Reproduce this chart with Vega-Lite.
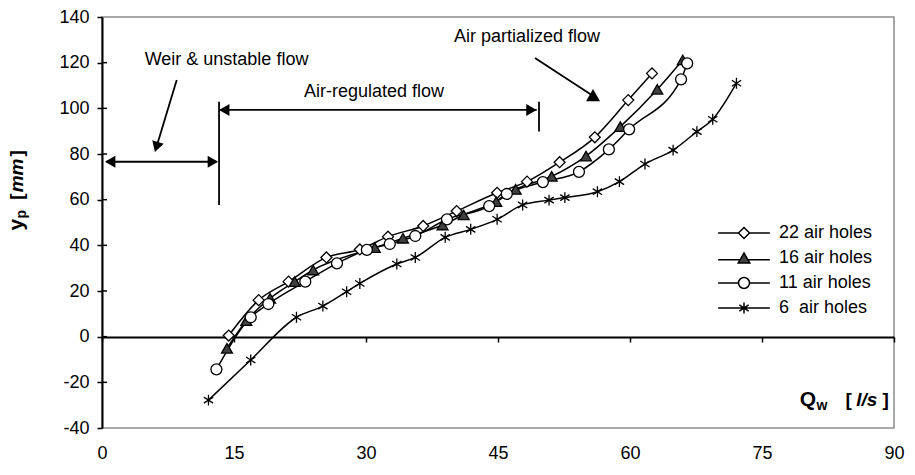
{
  "$schema": "https://vega.github.io/schema/vega-lite/v6.json",
  "width": 792,
  "height": 411,
  "autosize": {"type": "none"},
  "padding": {"left": 102, "top": 17, "right": 21, "bottom": 47},
  "background": "white",
  "config": {
    "font": "Liberation Sans",
    "view": {"stroke": "#8c8c8c", "strokeWidth": 1.5},
    "axis": {"labelFont": "Liberation Sans", "labelFontSize": 18, "labelColor": "black", "domainColor": "black", "domainWidth": 2, "tickColor": "black", "tickWidth": 1.5, "tickSize": 5, "grid": false},
    "text": {"font": "Liberation Sans", "fontSize": 18, "color": "black"}
  },
  "datasets": {
    "series": [
      {"s": "22 air holes", "Qw": 14.4, "yp": 0.5},
      {"s": "22 air holes", "Qw": 17.8, "yp": 16.0},
      {"s": "22 air holes", "Qw": 21.2, "yp": 24.1},
      {"s": "22 air holes", "Qw": 25.5, "yp": 34.7},
      {"s": "22 air holes", "Qw": 29.3, "yp": 38.2},
      {"s": "22 air holes", "Qw": 32.5, "yp": 43.8},
      {"s": "22 air holes", "Qw": 36.5, "yp": 48.5},
      {"s": "22 air holes", "Qw": 40.3, "yp": 55.0},
      {"s": "22 air holes", "Qw": 44.9, "yp": 63.0},
      {"s": "22 air holes", "Qw": 48.3, "yp": 67.9},
      {"s": "22 air holes", "Qw": 52.0, "yp": 76.4},
      {"s": "22 air holes", "Qw": 56.0, "yp": 87.3},
      {"s": "22 air holes", "Qw": 59.8, "yp": 103.6},
      {"s": "22 air holes", "Qw": 62.5, "yp": 115.3},
      {"s": "16 air holes", "Qw": 14.2, "yp": -5.1},
      {"s": "16 air holes", "Qw": 16.4, "yp": 7.0},
      {"s": "16 air holes", "Qw": 19.1, "yp": 16.8},
      {"s": "16 air holes", "Qw": 21.9, "yp": 24.1},
      {"s": "16 air holes", "Qw": 24.0, "yp": 29.2},
      {"s": "16 air holes", "Qw": 31.0, "yp": 39.0},
      {"s": "16 air holes", "Qw": 34.2, "yp": 43.1},
      {"s": "16 air holes", "Qw": 38.7, "yp": 48.9},
      {"s": "16 air holes", "Qw": 41.1, "yp": 53.3},
      {"s": "16 air holes", "Qw": 44.8, "yp": 59.1},
      {"s": "16 air holes", "Qw": 47.0, "yp": 64.5},
      {"s": "16 air holes", "Qw": 51.1, "yp": 70.2},
      {"s": "16 air holes", "Qw": 55.0, "yp": 79.1},
      {"s": "16 air holes", "Qw": 58.9, "yp": 92.0},
      {"s": "16 air holes", "Qw": 63.1, "yp": 108.3},
      {"s": "16 air holes", "Qw": 66.0, "yp": 121.2},
      {"s": "11 air holes", "Qw": 13.0, "yp": -14.3},
      {"s": "11 air holes", "Qw": 16.9, "yp": 8.5},
      {"s": "11 air holes", "Qw": 18.9, "yp": 14.3},
      {"s": "11 air holes", "Qw": 23.1, "yp": 24.1},
      {"s": "11 air holes", "Qw": 26.7, "yp": 32.1},
      {"s": "11 air holes", "Qw": 30.1, "yp": 38.0},
      {"s": "11 air holes", "Qw": 32.7, "yp": 40.6},
      {"s": "11 air holes", "Qw": 35.6, "yp": 44.1},
      {"s": "11 air holes", "Qw": 39.2, "yp": 51.4},
      {"s": "11 air holes", "Qw": 44.0, "yp": 57.2},
      {"s": "11 air holes", "Qw": 46.0, "yp": 62.5},
      {"s": "11 air holes", "Qw": 50.1, "yp": 67.7},
      {"s": "11 air holes", "Qw": 54.2, "yp": 72.2},
      {"s": "11 air holes", "Qw": 57.6, "yp": 82.0},
      {"s": "11 air holes", "Qw": 59.9, "yp": 90.8},
      {"s": "11 air holes", "Qw": 65.8, "yp": 112.7},
      {"s": "11 air holes", "Qw": 66.5, "yp": 119.7},
      {"s": "6 air holes", "Qw": 12.1, "yp": -27.8},
      {"s": "6 air holes", "Qw": 16.9, "yp": -10.2},
      {"s": "6 air holes", "Qw": 22.1, "yp": 8.5},
      {"s": "6 air holes", "Qw": 25.1, "yp": 13.4},
      {"s": "6 air holes", "Qw": 27.8, "yp": 19.7},
      {"s": "6 air holes", "Qw": 29.3, "yp": 23.3},
      {"s": "6 air holes", "Qw": 33.5, "yp": 31.8},
      {"s": "6 air holes", "Qw": 35.6, "yp": 34.7},
      {"s": "6 air holes", "Qw": 39.0, "yp": 43.5},
      {"s": "6 air holes", "Qw": 41.9, "yp": 47.0},
      {"s": "6 air holes", "Qw": 44.9, "yp": 51.4},
      {"s": "6 air holes", "Qw": 47.8, "yp": 57.7},
      {"s": "6 air holes", "Qw": 50.8, "yp": 59.8},
      {"s": "6 air holes", "Qw": 52.6, "yp": 60.9},
      {"s": "6 air holes", "Qw": 56.3, "yp": 63.5},
      {"s": "6 air holes", "Qw": 58.8, "yp": 67.9},
      {"s": "6 air holes", "Qw": 61.7, "yp": 75.6},
      {"s": "6 air holes", "Qw": 64.9, "yp": 81.7},
      {"s": "6 air holes", "Qw": 67.6, "yp": 89.8},
      {"s": "6 air holes", "Qw": 69.4, "yp": 95.2},
      {"s": "6 air holes", "Qw": 72.1, "yp": 111.0}
    ],
    "yticks": [{"t": -20}, {"t": 0}, {"t": 20}, {"t": 40}, {"t": 60}, {"t": 80}, {"t": 100}, {"t": 120}]
  },
  "data": {"values": [{}]},
  "resolve": {"scale": {"shape": "independent", "fill": "independent", "stroke": "independent"}},
  "layer": [
    {
      "data": {"name": "series"},
      "mark": {"type": "line", "interpolate": "monotone", "color": "black", "strokeWidth": 1.5},
      "encoding": {
        "x": {"field": "Qw", "type": "quantitative", "scale": {"domain": [0, 90], "nice": false, "zero": false},
              "axis": {"title": null, "orient": "bottom", "offset": -91, "values": [0, 15, 30, 45, 60, 75, 90], "labelPadding": 102, "labelFlush": false, "labelOverlap": false, "labelExpr": "'' + datum.value"}},
        "y": {"field": "yp", "type": "quantitative", "scale": {"domain": [-40, 140], "nice": false, "zero": false},
              "axis": {"title": null, "values": [-40, -20, 0, 20, 40, 60, 80, 100, 120, 140], "labelPadding": 8, "labelFlush": false, "labelOverlap": false, "labelExpr": "'' + datum.value"}},
        "detail": {"field": "s"}
      }
    },
    {
      "data": {"name": "yticks"},
      "mark": {"type": "rule", "color": "black", "strokeWidth": 1.5},
      "encoding": {"x": {"datum": 0}, "x2": {"datum": 0.57}, "y": {"field": "t", "type": "quantitative"}}
    },
    {
      "data": {"name": "series"},
      "mark": {"type": "point", "filled": true, "stroke": "black", "strokeWidth": 1.3, "opacity": 1, "size": 120},
      "encoding": {
        "x": {"field": "Qw", "type": "quantitative"},
        "y": {"field": "yp", "type": "quantitative"},
        "shape": {"field": "s", "type": "nominal", "scale": {"domain": ["22 air holes", "16 air holes", "11 air holes", "6 air holes"], "range": ["diamond", "triangle-up", "circle", "M0,-1L0,1M-0.85,-0.55L0.85,0.55M-0.85,0.55L0.85,-0.55"]}, "legend": null},
        "fill": {"field": "s", "type": "nominal", "scale": {"domain": ["22 air holes", "16 air holes", "11 air holes", "6 air holes"], "range": ["white", "#404040", "white", "transparent"]}, "legend": null}
      }
    },
    {
      "data": {"name": "series"},
      "mark": {"type": "point", "filled": true, "strokeWidth": 1.5, "opacity": 0, "size": 121},
      "encoding": {
        "x": {"field": "Qw", "type": "quantitative"},
        "y": {"field": "yp", "type": "quantitative"},
        "shape": {"field": "s", "type": "nominal",
          "scale": {"domain": ["22 air holes", "16 air holes", "11 air holes", "6 air holes"],
                    "range": ["M-4.7,0L-1,0M1,0L4.7,0M-1,0L0,-1L1,0L0,1Z", "M-4.7,0.3L-0.7,0.3M0.7,0.3L4.7,0.3M0,-0.9L-1.05,0.9L1.05,0.9Z", "M-4.7,0L-1,0M1,0L4.7,0M-1,0A1,1,0,1,0,1,0A1,1,0,1,0,-1,0Z", "M-4.7,0L4.7,0M0,-1L0,1M-0.85,-0.55L0.85,0.55M-0.85,0.55L0.85,-0.55"]},
          "legend": {"title": null, "orient": "none", "legendX": 633, "legendY": 207, "padding": 0, "symbolSize": 121, "symbolStrokeWidth": 1.5, "symbolOpacity": 1, "labelFont": "Liberation Sans", "labelFontSize": 18, "labelColor": "black", "labelOffset": 26, "rowPadding": 7, "labelExpr": "datum.label == '6 air holes' ? '\u00a06\u00a0 air holes' : datum.label"}},
        "fill": {"field": "s", "type": "nominal",
          "scale": {"domain": ["22 air holes", "16 air holes", "11 air holes", "6 air holes"], "range": ["white", "#404040", "white", "transparent"]},
          "legend": {"title": null, "orient": "none", "legendX": 633, "legendY": 207, "padding": 0, "symbolSize": 121, "symbolStrokeWidth": 1.5, "symbolOpacity": 1, "labelFont": "Liberation Sans", "labelFontSize": 18, "labelColor": "black", "labelOffset": 26, "rowPadding": 7, "labelExpr": "datum.label == '6 air holes' ? '\u00a06\u00a0 air holes' : datum.label"}},
        "stroke": {"field": "s", "type": "nominal",
          "scale": {"domain": ["22 air holes", "16 air holes", "11 air holes", "6 air holes"], "range": ["black", "black", "black", "black"]},
          "legend": {"title": null, "orient": "none", "legendX": 633, "legendY": 207, "padding": 0, "symbolSize": 121, "symbolStrokeWidth": 1.5, "symbolOpacity": 1, "labelFont": "Liberation Sans", "labelFontSize": 18, "labelColor": "black", "labelOffset": 26, "rowPadding": 7, "labelExpr": "datum.label == '6 air holes' ? '\u00a06\u00a0 air holes' : datum.label"}}
      }
    },
    {"mark": {"type": "rule", "color": "black", "strokeWidth": 1.8}, "encoding": {"x": {"datum": 0.5}, "x2": {"datum": 13.0}, "y": {"datum": 76.6}}},
    {"mark": {"type": "rule", "color": "black", "strokeWidth": 1.8}, "encoding": {"x": {"datum": 13.3}, "y": {"datum": 102.9}, "y2": {"datum": 57.7}}},
    {"mark": {"type": "rule", "color": "black", "strokeWidth": 1.8}, "encoding": {"x": {"datum": 13.4}, "x2": {"datum": 49.4}, "y": {"datum": 99.3}}},
    {"mark": {"type": "rule", "color": "black", "strokeWidth": 1.8}, "encoding": {"x": {"datum": 49.66}, "y": {"datum": 102.9}, "y2": {"datum": 89.8}}},
    {"mark": {"type": "rule", "color": "black", "strokeWidth": 1.8}, "encoding": {"x": {"datum": 8.49}, "y": {"datum": 112.4}, "x2": {"datum": 6.19}, "y2": {"datum": 83.1}}},
    {"mark": {"type": "rule", "color": "black", "strokeWidth": 1.8}, "encoding": {"x": {"datum": 49.2}, "y": {"datum": 122.0}, "x2": {"datum": 55.6}, "y2": {"datum": 106.0}}},
    {"mark": {"type": "point", "shape": "triangle-left", "filled": true, "color": "black", "opacity": 1, "size": 144}, "encoding": {"x": {"datum": 0.93}, "y": {"datum": 76.6}}},
    {"mark": {"type": "point", "shape": "triangle-right", "filled": true, "color": "black", "opacity": 1, "size": 144}, "encoding": {"x": {"datum": 12.6}, "y": {"datum": 76.6}}},
    {"mark": {"type": "point", "shape": "triangle-left", "filled": true, "color": "black", "opacity": 1, "size": 144}, "encoding": {"x": {"datum": 13.89}, "y": {"datum": 99.3}}},
    {"mark": {"type": "point", "shape": "triangle-right", "filled": true, "color": "black", "opacity": 1, "size": 144}, "encoding": {"x": {"datum": 48.8}, "y": {"datum": 99.3}}},
    {"mark": {"type": "point", "shape": "triangle-down", "angle": 17, "filled": true, "color": "black", "opacity": 1, "size": 144}, "encoding": {"x": {"datum": 6.19}, "y": {"datum": 83.1}}},
    {"mark": {"type": "point", "shape": "triangle-up", "filled": true, "color": "black", "opacity": 1, "size": 196}, "encoding": {"x": {"datum": 55.8}, "y": {"datum": 105.8}}},
    {"mark": {"type": "text", "text": "Weir & unstable flow", "align": "center", "baseline": "middle"}, "encoding": {"x": {"datum": 14.15}, "y": {"datum": 121.2}}},
    {"mark": {"type": "text", "text": "Air-regulated flow", "align": "center", "baseline": "middle"}, "encoding": {"x": {"datum": 30.9}, "y": {"datum": 107.3}}},
    {"mark": {"type": "text", "text": "Air partialized flow", "align": "center", "baseline": "middle"}, "encoding": {"x": {"datum": 48.3}, "y": {"datum": 131.4}}},
    {"mark": {"type": "text", "text": "y", "angle": 270, "align": "left", "baseline": "alphabetic", "fontSize": 21, "fontWeight": "bold"}, "encoding": {"x": {"datum": -9.0}, "y": {"datum": 46.5}}},
    {"mark": {"type": "text", "text": "p", "angle": 270, "align": "left", "baseline": "alphabetic", "fontSize": 14, "fontWeight": "bold", "dy": 3}, "encoding": {"x": {"datum": -9.0}, "y": {"datum": 51.8}}},
    {"mark": {"type": "text", "text": "[", "angle": 270, "align": "left", "baseline": "alphabetic", "fontSize": 19, "fontWeight": "bold"}, "encoding": {"x": {"datum": -9.0}, "y": {"datum": 60.0}}},
    {"mark": {"type": "text", "text": "mm", "angle": 270, "align": "left", "baseline": "alphabetic", "fontSize": 19, "fontWeight": "bold", "fontStyle": "italic"}, "encoding": {"x": {"datum": -9.0}, "y": {"datum": 63.2}}},
    {"mark": {"type": "text", "text": "]", "angle": 270, "align": "right", "baseline": "alphabetic", "fontSize": 19, "fontWeight": "bold"}, "encoding": {"x": {"datum": -9.0}, "y": {"datum": 81.7}}},
    {"mark": {"type": "text", "text": "Q", "align": "left", "baseline": "alphabetic", "fontSize": 21, "fontWeight": "bold"}, "encoding": {"x": {"datum": 79.3}, "y": {"datum": -30.4}}},
    {"mark": {"type": "text", "text": "w", "align": "left", "baseline": "alphabetic", "fontSize": 14, "fontWeight": "bold", "dy": 4}, "encoding": {"x": {"datum": 81.2}, "y": {"datum": -30.4}}},
    {"mark": {"type": "text", "text": "[", "align": "left", "baseline": "alphabetic", "fontSize": 19, "fontWeight": "bold"}, "encoding": {"x": {"datum": 84.5}, "y": {"datum": -30.4}}},
    {"mark": {"type": "text", "text": "l/s", "align": "center", "baseline": "alphabetic", "fontSize": 19, "fontWeight": "bold", "fontStyle": "italic"}, "encoding": {"x": {"datum": 86.9}, "y": {"datum": -30.4}}},
    {"mark": {"type": "text", "text": "]", "align": "right", "baseline": "alphabetic", "fontSize": 19, "fontWeight": "bold"}, "encoding": {"x": {"datum": 89.4}, "y": {"datum": -30.4}}}
  ]
}
